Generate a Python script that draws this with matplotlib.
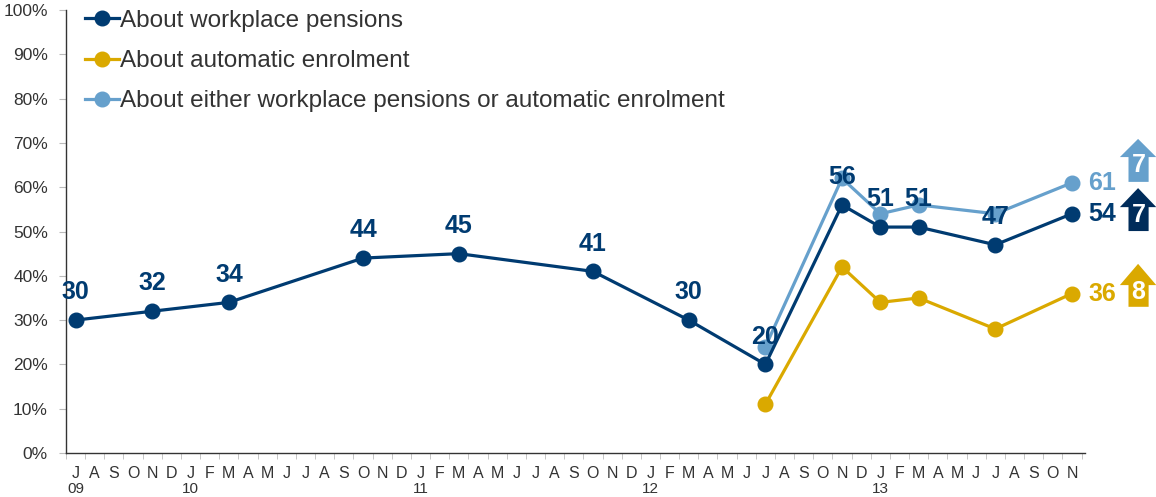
import numpy as np
import matplotlib
matplotlib.use("Agg")
import matplotlib.pyplot as plt
from matplotlib.patches import Polygon
from matplotlib.lines import Line2D

plt.rcParams['font.family'] = ['Liberation Sans', 'DejaVu Sans']

# Monthly axis: Jul 2009 .. Nov 2013
month_letters = ["J", "A", "S", "O", "N", "D",
                 "J", "F", "M", "A", "M", "J", "J", "A", "S", "O", "N", "D",
                 "J", "F", "M", "A", "M", "J", "J", "A", "S", "O", "N", "D",
                 "J", "F", "M", "A", "M", "J", "J", "A", "S", "O", "N", "D",
                 "J", "F", "M", "A", "M", "J", "J", "A", "S", "O", "N"]
year_labels = ["09", "10", "11", "12", "13"]
year_idx = [0, 6, 18, 30, 42]

# Survey waves (month index) and results (%)
wp_idx = [0, 4, 8, 15, 20, 27, 32, 36, 40, 42, 44, 48, 52]
wp_vals = [30, 32, 34, 44, 45, 41, 30, 20, 56, 51, 51, 47, 54]

ae_idx = [36, 40, 42, 44, 48, 52]
ae_vals = [11, 42, 34, 35, 28, 36]

either_idx = [36, 40, 42, 44, 48, 52]
either_vals = [24, 62, 54, 56, 54, 61]

series_names = ["About workplace pensions",
                "About automatic enrolment",
                "About either workplace pensions or automatic enrolment"]
changes = [7, 8, 7]  # change since previous wave, per series

c_dark = "#003B71"
c_gold = "#DAA900"
c_light = "#66A0CC"
c_arrow_dark = "#002C5A"

fig = plt.figure(figsize=(11.56, 4.97), dpi=100)
ax = fig.add_axes([66/1156, 44/497, (1085-66)/1156, (453-10)/497])

lw = 2.3
ms = 10.5
ax.plot(ae_idx, ae_vals, color=c_gold, lw=lw, marker="o", ms=ms, zorder=3)
ax.plot(wp_idx, wp_vals, color=c_dark, lw=lw, marker="o", ms=ms, zorder=4)
ax.plot(either_idx, either_vals, color=c_light, lw=lw, marker="o", ms=ms, zorder=3.5)

# value labels above workplace-pension points
for x, v in zip(wp_idx[:-1], wp_vals[:-1]):
    ax.annotate(str(v), (x, v), xytext=(0, 20), textcoords="offset points",
                ha="center", va="center", fontsize=18, fontweight="bold",
                color=c_dark, zorder=6)

# end-of-line labels
for idx, vals, col in [(wp_idx, wp_vals, c_dark), (ae_idx, ae_vals, c_gold),
                       (either_idx, either_vals, c_light)]:
    ax.annotate(str(vals[-1]), (idx[-1], vals[-1]), xytext=(22, 0),
                textcoords="offset points", ha="center", va="center",
                fontsize=18, fontweight="bold", color=col, zorder=6)

ax.set_xlim(-0.42, 52.68)
ax.set_ylim(0, 100)

# change arrows to the right of the plot
def up_arrow(y_bottom, y_headbase, y_tip, color, text):
    x0, x1 = 54.5, 56.4
    s0, s1 = 54.95, 56.0
    pts = [(s0, y_bottom), (s1, y_bottom), (s1, y_headbase), (x1, y_headbase),
           ((x0 + x1) / 2, y_tip), (x0, y_headbase), (s0, y_headbase)]
    ax.add_patch(Polygon(pts, closed=True, facecolor=color, edgecolor="none",
                         clip_on=False, zorder=5))
    ax.text((s0 + s1) / 2, (y_bottom + y_headbase) / 2 + 0.9, text,
            ha="center", va="center", color="white", fontsize=18,
            fontweight="bold", zorder=6, clip_on=False)

up_arrow(61.2, 66.8, 70.9, c_light, str(changes[2]))
up_arrow(50.1, 55.5, 59.8, c_arrow_dark, str(changes[0]))
up_arrow(33.0, 37.9, 42.7, c_gold, str(changes[1]))

# axes styling
for s in ["top", "right"]:
    ax.spines[s].set_visible(False)
ax.spines["left"].set_color("#333333")
ax.spines["bottom"].set_color("#333333")
ax.spines["left"].set_linewidth(1.0)
ax.spines["bottom"].set_linewidth(1.0)

ax.set_yticks(np.arange(0, 101, 10))
ax.set_yticklabels([f"{v}%" for v in range(0, 101, 10)])
ax.tick_params(axis="y", length=5, color="#BBBBBB", labelsize=12.5,
               labelcolor="#333333", pad=8)

months = np.arange(len(month_letters))
ax.set_xticks(months)
ax.set_xticklabels(month_letters)
ax.tick_params(axis="x", which="major", length=0, labelsize=11.5,
               labelcolor="#333333", pad=9)
ax.set_xticks(np.arange(-0.5, len(month_letters) - 0.4, 1), minor=True)
ax.tick_params(axis="x", which="minor", length=4, color="#BBBBBB")

for i, lab in zip(year_idx, year_labels):
    ax.annotate(lab, (i, 0), xytext=(0, -26), textcoords="offset points",
                ha="center", va="center", fontsize=11, color="#333333",
                annotation_clip=False)

handles = [Line2D([], [], color=c, lw=lw, marker="o", ms=ms)
           for c in (c_dark, c_gold, c_light)]
leg = fig.legend(handles, series_names, loc="upper left",
                 bbox_to_anchor=(80/1156, 1 - 5/497), frameon=False,
                 fontsize=17.5, handlelength=1.4, handletextpad=0.05,
                 labelspacing=0.75, borderaxespad=0, borderpad=0.2)
for t in leg.get_texts():
    t.set_color("#333333")

fig.savefig("out.png", dpi=100)
